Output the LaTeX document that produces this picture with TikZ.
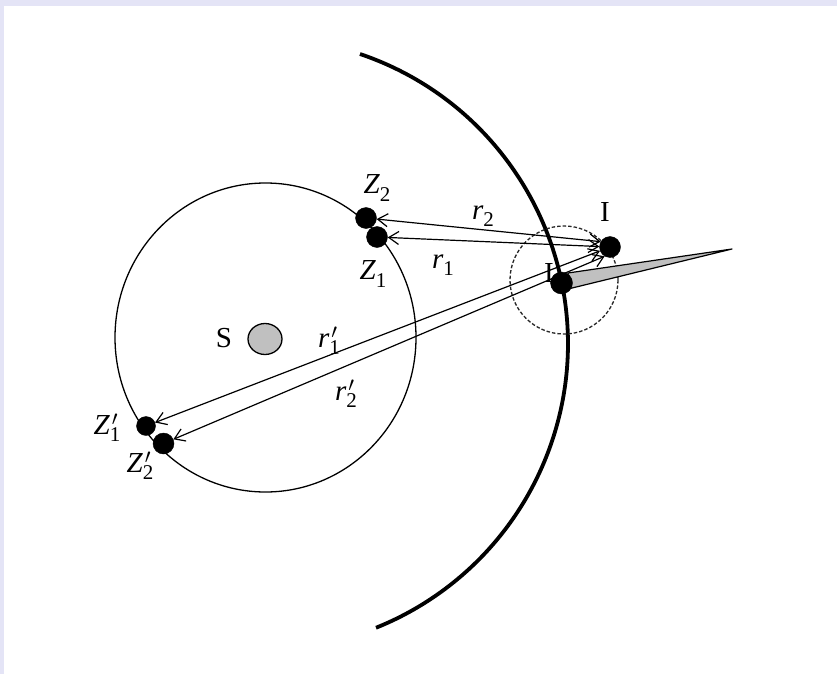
\documentclass[tikz,border=0pt]{standalone}
\usepackage{fontspec}
\setmainfont{Liberation Serif}
\usetikzlibrary{arrows.meta,shapes.geometric}
\definecolor{lav}{RGB}{228,228,246}
\definecolor{wedgegray}{RGB}{192,192,192}
\newcommand{\zsub}[2]{\textit{#1}\raisebox{-0.25em}{\fontsize{21}{21}\selectfont #2}}
\newcommand{\zsubp}[2]{\textit{#1}\rlap{\kern2pt$'$}\raisebox{-0.25em}{\fontsize{21}{21}\selectfont #2}}
\tikzset{
  dot/.style={circle,fill=black,draw=black,inner sep=0pt,minimum size=#1},
  lab/.style={inner sep=0pt,font=\fontsize{29}{31}\selectfont},
  ray/.style={line width=1.2pt,{Straight Barb[length=10pt,width=13pt,line width=1.2pt]}-{Straight Barb[length=10pt,width=13pt,line width=1.2pt]}}
}
\begin{document}
\begin{tikzpicture}[x=1pt,y=-1pt]
\useasboundingbox (0,0) rectangle (837,674);
\fill[lav] (0,0) rectangle (837,674);
\fill[white] (4,6) rectangle (837,674);
% orbit circle
\draw[line width=1.3pt] (265.5,337.5) ellipse [x radius=150.5, y radius=154.5];
% big arc
\draw[line width=3.8pt] (360,54) arc[start angle=-71.3, end angle=68.1, radius=306];
% dashed circle
\draw[line width=1.3pt,dash pattern=on 3.5pt off 2pt,black!85] (564,280) circle[radius=54];
% S
\node[ellipse,draw=black,fill=wedgegray,line width=1.3pt,minimum width=34pt,minimum height=31pt,inner sep=0pt] (S) at (265,339) {};
\node[lab] (Slab) at (224,338) {S};
% I' label (mostly hidden)
\node[lab] (Iplab) at (549,273) {I};
% wedge
\coordinate (w1) at (568,273);
\coordinate (w2) at (732,249);
\coordinate (w3) at (568,289);
\filldraw[fill=wedgegray,draw=black,line width=1.2pt,line join=round] (w1) -- (w2) -- (w3) -- cycle;
% dots
\node[dot=21pt] (I) at (610,247) {};
\node[dot=22pt] (Ip) at (561.5,283) {};
\node[dot=21pt] (Z2) at (366,218) {};
\node[dot=21pt] (Z1) at (377,237) {};
\node[dot=19pt] (Z1p) at (146,426) {};
\node[dot=21pt] (Z2p) at (163.5,443.5) {};
% rays
\draw[ray] (Z2) -- (I.150);
\draw[ray] (Z1) -- (I);
\draw[ray] (Z1p) -- (I);
\draw[ray] (Z2p) -- (I.240);
% labels
\node[lab] (Ilab) at (605,212) {I};
\node[lab] (Z2lab) at (377,188) {\zsub{Z}{2}};
\node[lab] (Z1lab) at (373,274) {\zsub{Z}{1}};
\node[lab] (Z1plab) at (107,428) {\zsubp{Z}{1}};
\node[lab] (Z2plab) at (140,466) {\zsubp{Z}{2}};
\node[lab] (r2lab) at (483,216) {\zsub{r}{2}};
\node[lab] (r1lab) at (443,265) {\zsub{r}{1}};
\node[lab] (r1plab) at (329,341) {\zsubp{r}{1}};
\node[lab] (r2plab) at (346,394) {\zsubp{r}{2}};
\end{tikzpicture}
\end{document}
